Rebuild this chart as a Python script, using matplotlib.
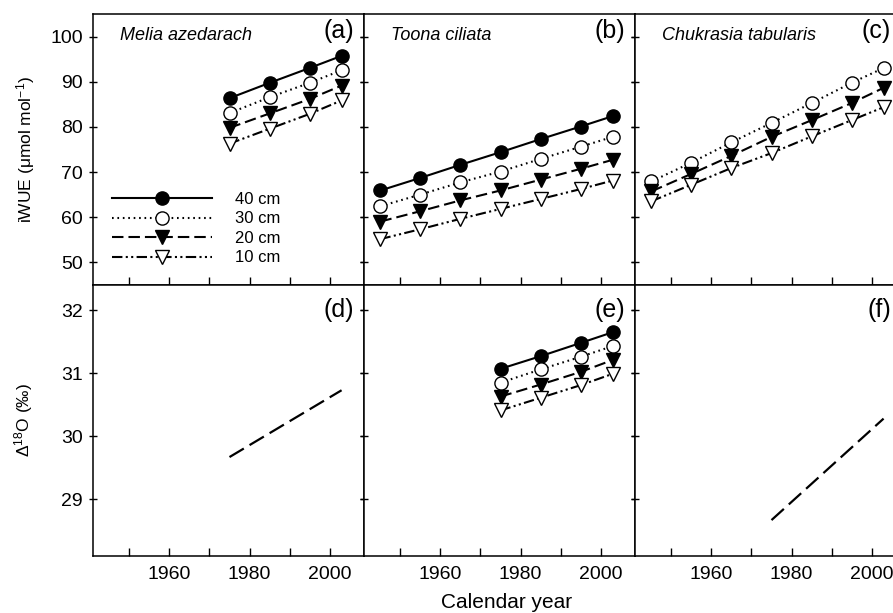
import matplotlib
matplotlib.use("Agg")
import matplotlib.pyplot as plt
from matplotlib.ticker import FixedLocator

plt.rcParams["font.family"] = ["Liberation Sans", "DejaVu Sans"]
plt.rcParams["mathtext.fontset"] = "custom"
plt.rcParams["mathtext.rm"] = "Liberation Sans"
plt.rcParams["mathtext.it"] = "Liberation Sans:italic"

# years of the sampled points
years_short = [1975, 1985, 1995, 2003]
years_long = [1945, 1955, 1965, 1975, 1985, 1995, 2003]

# iWUE (umol mol-1), top row
melia_40 = [86.4, 89.8, 93.1, 95.8]
melia_30 = [83.1, 86.6, 89.8, 92.6]
melia_20 = [79.8, 83.0, 86.2, 89.2]
melia_10 = [76.3, 79.6, 82.9, 85.9]

toona_40 = [65.9, 68.7, 71.6, 74.4, 77.3, 80.1, 82.4]
toona_30 = [62.4, 65.0, 67.7, 70.1, 72.9, 75.6, 77.8]
toona_20 = [59.0, 61.3, 63.7, 65.9, 68.3, 70.7, 72.7]
toona_10 = [55.1, 57.3, 59.6, 61.8, 64.0, 66.2, 68.1]

chuk_30 = [67.9, 72.1, 76.6, 80.9, 85.3, 89.8, 93.1]
chuk_20 = [65.7, 69.6, 73.6, 77.8, 81.5, 85.3, 88.7]
chuk_10 = [63.5, 67.2, 70.9, 74.2, 77.9, 81.5, 84.4]

# delta 18O (permil), bottom row
melia_d18o_years = [1975, 2003]
melia_d18o = [29.67, 30.73]

toona_d18o_40 = [31.07, 31.27, 31.48, 31.65]
toona_d18o_30 = [30.85, 31.06, 31.26, 31.43]
toona_d18o_20 = [30.63, 30.82, 31.02, 31.21]
toona_d18o_10 = [30.41, 30.61, 30.81, 30.99]

chuk_d18o_years = [1975, 2003]
chuk_d18o = [28.67, 30.28]

depths = ["40 cm", "30 cm", "20 cm", "10 cm"]
species = ["Melia azedarach", "Toona ciliata", "Chukrasia tabularis"]

styles = {
    "40 cm": dict(marker="o", mfc="black", ls="-"),
    "30 cm": dict(marker="o", mfc="white", dashes=(0.8, 1.8)),
    "20 cm": dict(marker="v", mfc="black", dashes=(5.5, 2.4)),
    "10 cm": dict(marker="v", mfc="white", dashes=(5, 1.6, 1, 1.6, 1, 1.6)),
}


def plot_series(ax, x, y, depth, label=None):
    st = styles[depth]
    kw = dict(color="black", lw=1.5, marker=st["marker"], ms=9.5,
              mfc=st["mfc"], mec="black", mew=1.0, label=label)
    if "dashes" in st:
        ax.plot(x, y, dashes=st["dashes"], **kw)
    else:
        ax.plot(x, y, ls=st["ls"], **kw)


fig = plt.figure(figsize=(8.93, 6.13), dpi=100)
W = 271 / 893
H = 271 / 613
lefts = [93 / 893, 364 / 893, 635 / 893]
top_bottom = 1 - 285 / 613
bot_bottom = 1 - 556 / 613

axes_top = [fig.add_axes([l, top_bottom, W, H]) for l in lefts]
axes_bot = [fig.add_axes([l, bot_bottom, W, H]) for l in lefts]

for ax in axes_top + axes_bot:
    ax.set_xlim(1940.9, 2008.6)
    ax.xaxis.set_major_locator(FixedLocator([1960, 1980, 2000]))
    ax.xaxis.set_minor_locator(FixedLocator([1950, 1970, 1990]))
    ax.tick_params(axis="x", which="both", direction="in", length=5.5, width=1,
                   labelsize=14, pad=7)
    ax.tick_params(axis="y", which="both", direction="inout", length=5.5, width=1,
                   left=True, right=True, labelsize=14, pad=4.5)
    for sp in ax.spines.values():
        sp.set_linewidth(1.1)

for ax in axes_top:
    ax.set_ylim(44.9, 105.1)
    ax.set_yticks([50, 60, 70, 80, 90, 100])
    ax.tick_params(axis="x", labelbottom=False)

for ax in axes_bot:
    ax.set_ylim(28.1, 32.4)
    ax.set_yticks([29, 30, 31, 32])

for ax in axes_top[1:] + axes_bot[1:]:
    ax.tick_params(axis="y", labelleft=False)

# top row
a = axes_top[0]
for d, vals in zip(depths, [melia_40, melia_30, melia_20, melia_10]):
    plot_series(a, years_short, vals, d, label=d)
b = axes_top[1]
for d, vals in zip(depths, [toona_40, toona_30, toona_20, toona_10]):
    plot_series(b, years_long, vals, d)
c = axes_top[2]
for d, vals in zip(depths[1:], [chuk_30, chuk_20, chuk_10]):
    plot_series(c, years_long, vals, d)

# bottom row
axes_bot[0].plot(melia_d18o_years, melia_d18o, color="black", lw=1.6, dashes=(7.5, 3))
for d, vals in zip(depths, [toona_d18o_40, toona_d18o_30, toona_d18o_20, toona_d18o_10]):
    plot_series(axes_bot[1], years_short, vals, d)
axes_bot[2].plot(chuk_d18o_years, chuk_d18o, color="black", lw=1.6, dashes=(7.5, 3))

leg = a.legend(loc="lower left", bbox_to_anchor=(0.07, 0.072), frameon=False,
               fontsize=12, handlelength=6.0, handletextpad=1.4,
               labelspacing=0.27, borderaxespad=0, borderpad=0)

tag_x = [0.963, 0.963, 0.945]
for ax, name, tag, tx in zip(axes_top, species, ["(a)", "(b)", "(c)"], tag_x):
    ax.text(0.1, 0.92, name, transform=ax.transAxes, fontsize=13, style="italic",
            ha="left", va="center")
    ax.text(tx, 0.937, tag, transform=ax.transAxes, fontsize=18,
            ha="right", va="center")
for ax, tag, tx in zip(axes_bot, ["(d)", "(e)", "(f)"], tag_x):
    ax.text(tx, 0.908, tag, transform=ax.transAxes, fontsize=18,
            ha="right", va="center")

a.set_ylabel("iWUE (μmol mol$^{-1}$)", fontsize=12.5)
a.yaxis.set_label_coords(-0.205, 0.5)
axes_bot[0].set_ylabel("Δ$^{18}$O (‰)", fontsize=12.5)
axes_bot[0].yaxis.set_label_coords(-0.215, 0.5)

fig.text(507 / 893, 1 - 603 / 613, "Calendar year", fontsize=15,
         ha="center", va="center")

fig.savefig("out.png", dpi=100)
